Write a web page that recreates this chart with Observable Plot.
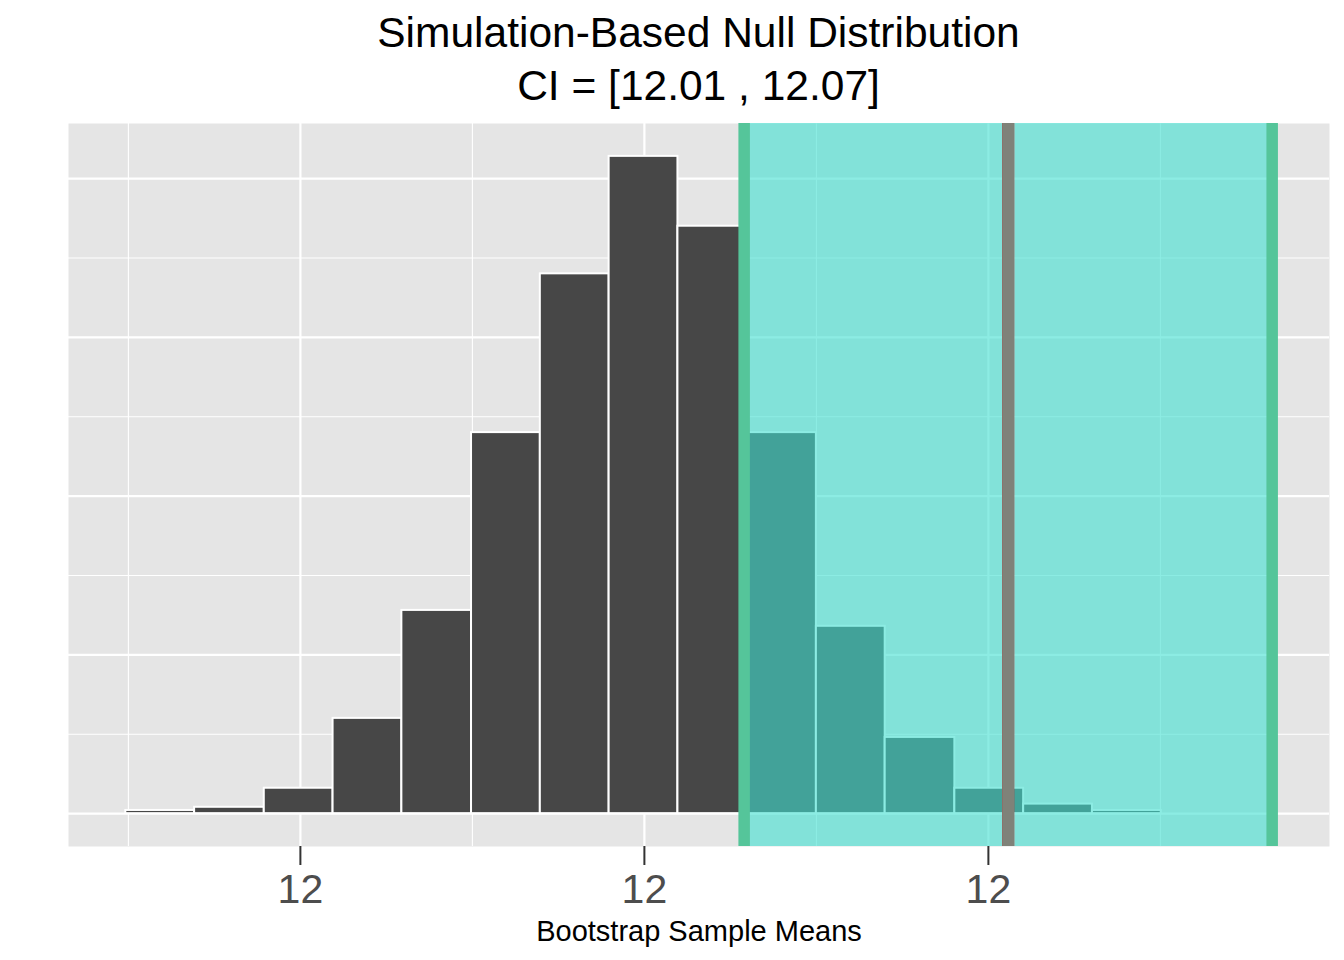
<!DOCTYPE html>
<html>
<head>
<meta charset="utf-8">
<script src="https://cdn.jsdelivr.net/npm/d3@7"></script>
<script src="https://cdn.jsdelivr.net/npm/@observablehq/plot@0.6"></script>
<style>
  html, body { margin: 0; padding: 0; background: #ffffff; }
  body { width: 1344px; height: 960px; overflow: hidden; font-family: "Liberation Sans", Arial, sans-serif; }
  #title { box-sizing: border-box; height: 123px; padding-top: 6px; padding-left: 68px; width: 1329px;
           text-align: center; font-size: 42.5px; line-height: 53px; color: #000; }
  #chart svg { display: block; }
</style>
</head>
<body>
<div id="title"><div>Simulation-Based Null Distribution</div><div>CI = [12.01 , 12.07]</div></div>
<div id="chart"></div>
<script>
// Histogram bins (lower/upper edges) and counts of bootstrap sample means
const binLower = [11.9397, 11.9477, 11.9558, 11.9638, 11.9718, 11.9799, 11.9879, 11.9959,
                  12.0039, 12.0120, 12.0200, 12.0280, 12.0361, 12.0441, 12.0521];
const binUpper = [11.9477, 11.9558, 11.9638, 11.9718, 11.9799, 11.9879, 11.9959, 12.0039,
                  12.0120, 12.0200, 12.0280, 12.0361, 12.0441, 12.0521, 12.0601];
const counts   = [1, 2, 8, 30, 64, 120, 170, 207, 185, 120, 59, 24, 8, 3, 1];

// Confidence interval endpoints and observed statistic
const ciEndpoints = [12.0116, 12.0730];
const obsStat = [12.0423];

// Axis ticks
const xMajorTicks = [11.96, 12.00, 12.04];
const xTickLabels = ["12", "12", "12"];
const xMinorTicks = [11.94, 11.98, 12.02, 12.06];
const yMajorTicks = [0, 50, 100, 150, 200];
const yMinorTicks = [25, 75, 125, 175];
const xLabel = "Bootstrap Sample Means";

const bins = binLower.map((lo, i) => ({x1: lo, x2: binUpper[i], count: counts[i]}));
const ci = [{lo: ciEndpoints[0], hi: ciEndpoints[1]}];

const yMax = d3.max(counts);
const xMin = binLower[0], xMax = ciEndpoints[1];
const xPad = (xMax - xMin) * 0.05;

const chart = Plot.plot({
  width: 1344,
  height: 837,
  marginLeft: 68,
  marginRight: 15,
  marginTop: 0,
  marginBottom: 114,
  style: {fontFamily: '"Liberation Sans", Arial, sans-serif', background: "transparent"},
  x: {domain: [xMin - xPad, xMax + xPad]},
  y: {domain: [-0.05 * yMax, 1.05 * yMax], axis: null},
  marks: [
    Plot.frame({fill: "#E5E5E5", stroke: null}),
    Plot.gridX(xMinorTicks, {stroke: "#ffffff", strokeOpacity: 1, strokeWidth: 1.1}),
    Plot.gridY(yMinorTicks, {stroke: "#ffffff", strokeOpacity: 1, strokeWidth: 1.1}),
    Plot.gridX(xMajorTicks, {stroke: "#ffffff", strokeOpacity: 1, strokeWidth: 2.2}),
    Plot.gridY(yMajorTicks, {stroke: "#ffffff", strokeOpacity: 1, strokeWidth: 2.2}),
    Plot.rectY(bins, {x1: "x1", x2: "x2", y: "count", fill: "#474747", stroke: "#ffffff", strokeWidth: 2}),
    Plot.rect(ci, {x1: "lo", x2: "hi", fill: "#40E0D0", fillOpacity: 0.6}),
    Plot.ruleX(ciEndpoints, {stroke: "#55C59A", strokeWidth: 11.5}),
    Plot.ruleX(obsStat, {stroke: "#EE0000", strokeWidth: 12, insetTop: -2}),
    Plot.ruleX(obsStat, {stroke: "#7F8279", strokeWidth: 12}),
    Plot.axisX(xMajorTicks, {
      tickFormat: (d, i) => xTickLabels[i],
      tickSize: 19,
      tickPadding: 8,
      fontSize: 41,
      stroke: "#333333",
      strokeWidth: 2,
      fill: "#4D4D4D",
      label: null
    }),
    Plot.text([xLabel], {frameAnchor: "bottom", lineAnchor: "bottom", dy: 94, fontSize: 29, fill: "#000000", text: d => d})
  ]
});
document.getElementById("chart").appendChild(chart);
</script>
</body>
</html>
